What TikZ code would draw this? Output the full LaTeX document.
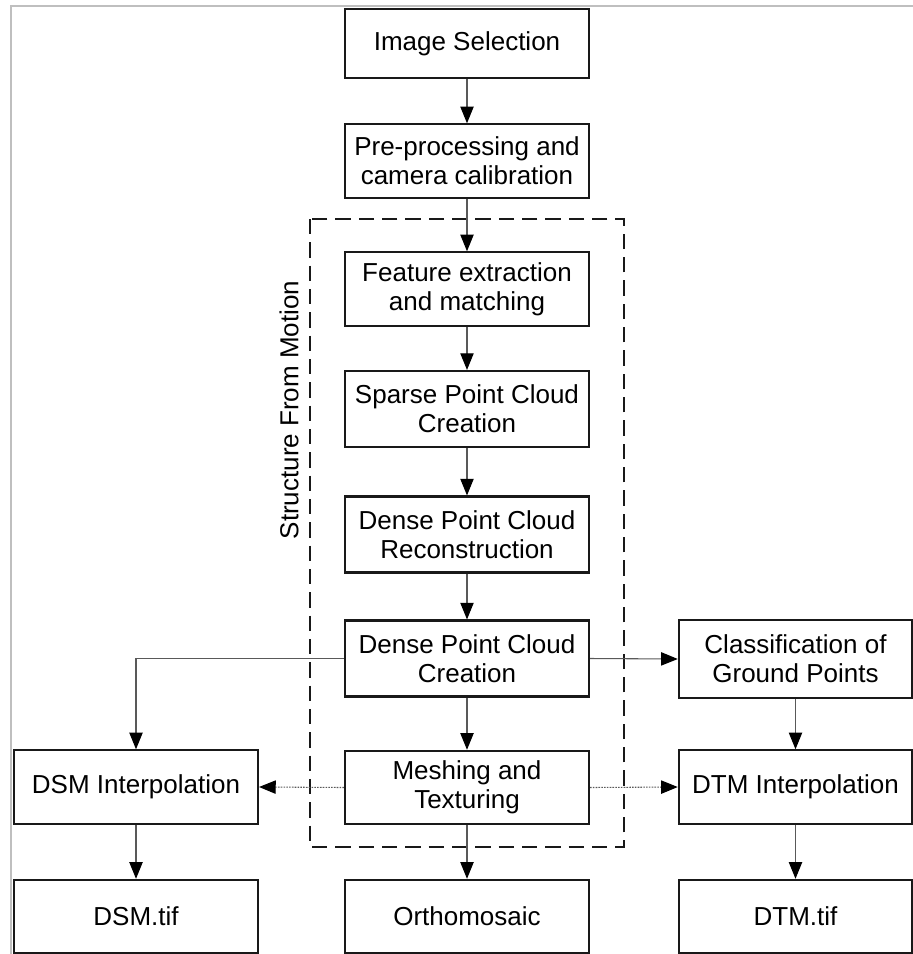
\documentclass[tikz,border=0pt]{standalone}
\usepackage{fontspec}
\setmainfont{Liberation Sans}
\usetikzlibrary{arrows.meta}

\tikzset{
  stepbox/.style={draw=black!90, line width=1.6pt, minimum width=183pt, minimum height=55pt,
    inner sep=0pt, align=center, font=\fontsize{19.5}{21.5}\selectfont},
  flow/.style={draw=black!65, line width=0.8pt, -{Triangle[length=12.5pt,width=10pt,color=black]}},
  dotflow/.style={flow, dash pattern=on 1.2pt off 0.9pt},
  sfmframe/.style={draw=black!90, line width=1.6pt, dash pattern=on 11.5pt off 6pt},
}

\begin{document}
\begin{tikzpicture}[x=0.75pt,y=0.75pt,yscale=-1,xscale=1]
    \clip (0,0) rectangle (913,954);

    %Page frame
    \draw [black!25, line width=0.9pt] (11,954) -- (11,6) -- (913,6) ;
    %Dashed Box: structure from motion
    \draw [sfmframe] (310,219) rectangle (624,847) ;
    % Text Node
    \node [rotate=90, inner sep=0pt, font=\fontsize{19.5}{21.5}\selectfont] (sfmlabel) at (289,410) {Structure From Motion};

    % Main column
    \node [stepbox, minimum height=52pt] (sel) at (467,43.5) {Image Selection};
    \node [stepbox] (pre) at (467,161) {Pre-processing and\\camera calibration};
    \node [stepbox] (feat) at (467,289) {Feature extraction\\and matching};
    \node [stepbox, minimum height=57pt] (sparse) at (467,409) {Sparse Point Cloud\\Creation};
    \node [stepbox, minimum height=57pt] (recon) at (467,534.5) {Dense Point Cloud\\Reconstruction};
    \node [stepbox, minimum height=57pt] (dense) at (467,658.5) {Dense Point Cloud\\Creation};
    \node [stepbox] (mesh) at (467,787.5) {Meshing and\\Texturing};
    \node [stepbox] (ortho) at (467,916.5) {Orthomosaic};

    % Left column
    \node [stepbox] (dsmi) at (136,787) {DSM Interpolation};
    \node [stepbox] (dsm) at (136,916.5) {DSM.tif};

    % Right column
    \node [stepbox, minimum width=175pt, minimum height=59pt] (cls) at (795.5,659) {Classification of\\Ground Points};
    \node [stepbox, minimum width=175pt] (dtmi) at (795.5,787) {DTM Interpolation};
    \node [stepbox, minimum width=175pt] (dtm) at (795.5,916.5) {DTM.tif};

    %Straight Lines
    \draw [flow] (sel) -- (pre) ;
    \draw [flow] (pre) -- (feat) ;
    \draw [flow] (feat) -- (sparse) ;
    \draw [flow] (sparse) -- (recon) ;
    \draw [flow] (recon) -- (dense) ;
    \draw [flow] (dense) -- (mesh) ;
    \draw [flow] (mesh) -- (ortho) ;
    \draw [flow] (dense.west) -| (dsmi.north) ;
    \draw [flow] (dense.east) -- (cls.west) ;
    \draw [flow] (dsmi) -- (dsm) ;
    \draw [flow] (cls) -- (dtmi) ;
    \draw [flow] (dtmi) -- (dtm) ;
    %Dotted Lines
    \draw [dotflow] (mesh.west) -- (dsmi.east) ;
    \draw [dotflow] (mesh.east) -- (dtmi.west) ;

\end{tikzpicture}
\end{document}
